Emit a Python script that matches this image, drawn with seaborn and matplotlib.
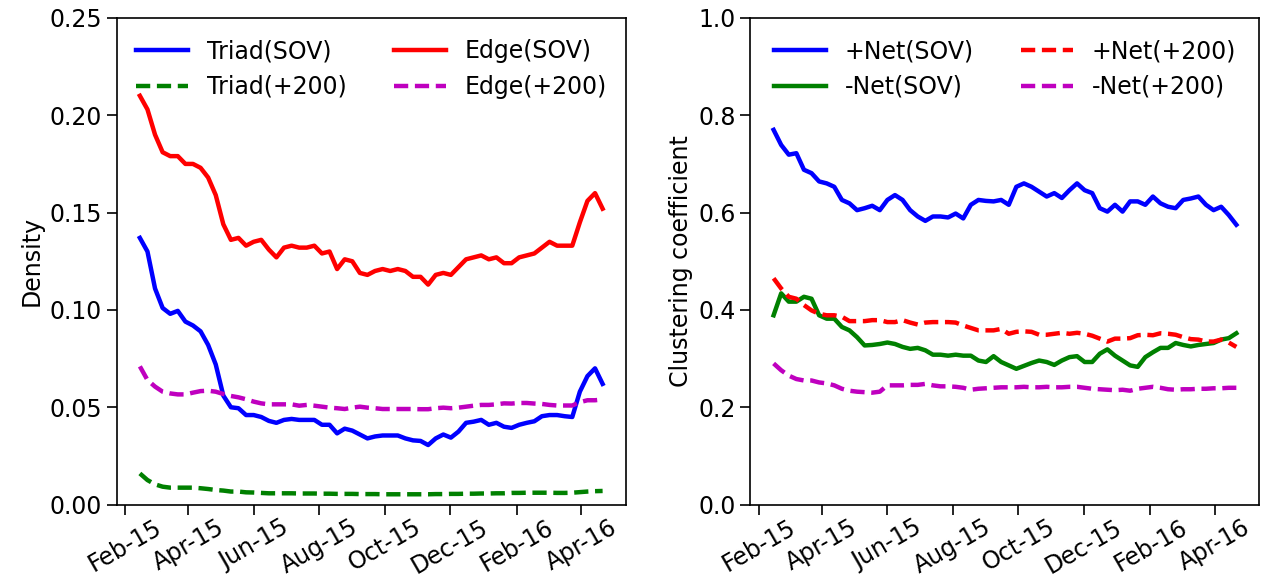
import pandas as pd
import seaborn as sns
import matplotlib
matplotlib.use("Agg")
import matplotlib.pyplot as plt
import matplotlib.dates as mdates
from matplotlib.ticker import FormatStrFormatter, MultipleLocator

plt.rcParams['font.family'] = ['DejaVu Sans']
plt.rcParams['font.size'] = 17

# weekly samples, 2015-02-15 .. 2016-04-21
dates = pd.date_range("2015-02-15", "2016-04-21", periods=62)

# ---- left panel: density ----
triad_sov = [0.137, 0.130, 0.111, 0.101, 0.098, 0.0995, 0.094, 0.092, 0.089, 0.082,
             0.072, 0.056, 0.050, 0.0495, 0.046, 0.046, 0.045, 0.043, 0.042, 0.0435,
             0.044, 0.0435, 0.0435, 0.0435, 0.041, 0.041, 0.0366, 0.039, 0.038, 0.036,
             0.034, 0.035, 0.0355, 0.0355, 0.0355, 0.034, 0.033, 0.0327, 0.0306, 0.034,
             0.036, 0.0344, 0.0375, 0.042, 0.0426, 0.0435, 0.041, 0.042, 0.040, 0.0394,
             0.041, 0.042, 0.0428, 0.0454, 0.046, 0.046, 0.0454, 0.045, 0.058, 0.066,
             0.070, 0.062]
triad_200 = [0.016, 0.0126, 0.0104, 0.0092, 0.0087, 0.0087, 0.0087, 0.0087, 0.0084, 0.008,
             0.0075, 0.0072, 0.0067, 0.0067, 0.0063, 0.0062, 0.006, 0.0058, 0.0058, 0.0058,
             0.0058, 0.0057, 0.0057, 0.0057, 0.0056, 0.0056, 0.0055, 0.0055, 0.0055, 0.0054,
             0.0054, 0.0054, 0.0053, 0.0053, 0.0053, 0.0053, 0.0053, 0.0053, 0.0053, 0.0054,
             0.0054, 0.0055, 0.0055, 0.0056, 0.0056, 0.0057, 0.0057, 0.0058, 0.0058, 0.006,
             0.006, 0.0061, 0.0061, 0.0061, 0.0061, 0.006, 0.006, 0.0061, 0.0064, 0.0067,
             0.0069, 0.007]
edge_sov = [0.210, 0.203, 0.190, 0.181, 0.179, 0.179, 0.175, 0.175, 0.173, 0.168,
            0.159, 0.144, 0.136, 0.137, 0.133, 0.135, 0.136, 0.131, 0.127, 0.132,
            0.133, 0.132, 0.132, 0.133, 0.129, 0.130, 0.121, 0.126, 0.125, 0.119,
            0.118, 0.120, 0.121, 0.120, 0.121, 0.120, 0.117, 0.117, 0.113, 0.118,
            0.119, 0.118, 0.122, 0.126, 0.127, 0.128, 0.126, 0.127, 0.124, 0.124,
            0.127, 0.128, 0.129, 0.132, 0.135, 0.133, 0.133, 0.133, 0.145, 0.156,
            0.160, 0.152]
edge_200 = [0.071, 0.064, 0.0606, 0.058, 0.0571, 0.0566, 0.0566, 0.0575, 0.0583, 0.0585,
            0.058, 0.0568, 0.0558, 0.0551, 0.0541, 0.0529, 0.052, 0.0515, 0.0515, 0.0515,
            0.0515, 0.0508, 0.0512, 0.0508, 0.0503, 0.0498, 0.0495, 0.0491, 0.0498, 0.0503,
            0.0498, 0.0495, 0.0491, 0.0491, 0.0491, 0.0491, 0.0491, 0.049, 0.049, 0.0495,
            0.0498, 0.0495, 0.0498, 0.0503, 0.0508, 0.0512, 0.0512, 0.0515, 0.052, 0.0519,
            0.0522, 0.0522, 0.0519, 0.0517, 0.0512, 0.0509, 0.0509, 0.0509, 0.0526, 0.0536,
            0.0536, 0.054]

# ---- right panel: clustering coefficient ----
pos_sov = [0.770, 0.739, 0.719, 0.722, 0.688, 0.681, 0.664, 0.660, 0.653, 0.626,
           0.619, 0.605, 0.609, 0.614, 0.605, 0.626, 0.636, 0.626, 0.605, 0.592,
           0.583, 0.592, 0.592, 0.590, 0.598, 0.588, 0.616, 0.626, 0.624, 0.623,
           0.626, 0.616, 0.653, 0.660, 0.653, 0.643, 0.633, 0.640, 0.630, 0.646,
           0.660, 0.646, 0.640, 0.609, 0.602, 0.616, 0.602, 0.623, 0.623, 0.616,
           0.633, 0.619, 0.612, 0.609, 0.626, 0.629, 0.633, 0.616, 0.605, 0.612,
           0.595, 0.575]
neg_sov = [0.389, 0.434, 0.417, 0.417, 0.427, 0.423, 0.389, 0.382, 0.382, 0.365,
           0.358, 0.344, 0.327, 0.328, 0.330, 0.333, 0.330, 0.324, 0.320, 0.322,
           0.317, 0.308, 0.308, 0.306, 0.308, 0.306, 0.306, 0.296, 0.293, 0.305,
           0.293, 0.286, 0.279, 0.285, 0.291, 0.296, 0.293, 0.287, 0.296, 0.303,
           0.305, 0.293, 0.293, 0.310, 0.319, 0.306, 0.296, 0.286, 0.283, 0.303,
           0.313, 0.322, 0.322, 0.332, 0.328, 0.325, 0.328, 0.330, 0.332, 0.339,
           0.342, 0.352]
pos_200 = [0.465, 0.444, 0.427, 0.423, 0.410, 0.399, 0.392, 0.389, 0.389, 0.386,
           0.377, 0.377, 0.377, 0.379, 0.379, 0.375, 0.375, 0.379, 0.374, 0.370,
           0.374, 0.375, 0.375, 0.375, 0.374, 0.368, 0.363, 0.358, 0.358, 0.358,
           0.361, 0.351, 0.355, 0.356, 0.355, 0.349, 0.349, 0.351, 0.353, 0.351,
           0.353, 0.351, 0.347, 0.341, 0.335, 0.341, 0.341, 0.342, 0.348, 0.349,
           0.348, 0.352, 0.351, 0.349, 0.344, 0.340, 0.339, 0.335, 0.335, 0.339,
           0.333, 0.324]
neg_200 = [0.290, 0.276, 0.265, 0.258, 0.255, 0.255, 0.251, 0.249, 0.245, 0.238,
           0.234, 0.232, 0.231, 0.230, 0.232, 0.245, 0.245, 0.245, 0.246, 0.246,
           0.248, 0.245, 0.243, 0.243, 0.242, 0.240, 0.236, 0.238, 0.239, 0.240,
           0.241, 0.241, 0.241, 0.242, 0.241, 0.241, 0.242, 0.241, 0.241, 0.242,
           0.242, 0.240, 0.238, 0.237, 0.236, 0.235, 0.236, 0.234, 0.238, 0.240,
           0.242, 0.240, 0.237, 0.236, 0.237, 0.237, 0.238, 0.238, 0.239, 0.239,
           0.240, 0.240]

fig, (ax1, ax2) = plt.subplots(1, 2, figsize=(12.62, 5.78), dpi=100)
fig.subplots_adjust(left=0.0925, right=0.998, bottom=0.127, top=0.969, wspace=0.245)

dash = (0, (3.2, 1.5))
left_series = [
    (triad_sov, "Triad(SOV)", "b", "-"),
    (triad_200, "Triad(+200)", "g", dash),
    (edge_sov, "Edge(SOV)", "r", "-"),
    (edge_200, "Edge(+200)", "m", dash),
]
right_series = [
    (pos_sov, "+Net(SOV)", "b", "-"),
    (neg_sov, "-Net(SOV)", "g", "-"),
    (pos_200, "+Net(+200)", "r", dash),
    (neg_200, "-Net(+200)", "m", dash),
]

for ax, series in [(ax1, left_series), (ax2, right_series)]:
    for vals, lbl, c, ls in series:
        sns.lineplot(x=dates, y=vals, ax=ax, color=c, linestyle=ls,
                     linewidth=3.2, label=lbl)
    ax.legend(ncol=2, loc="upper center", frameon=False, fontsize=17,
              handlelength=2.2)
    ax.xaxis.set_major_locator(mdates.MonthLocator(bymonth=[2, 4, 6, 8, 10, 12]))
    ax.xaxis.set_major_formatter(mdates.DateFormatter("%b-%y"))
    ax.tick_params(axis="both", direction="out", length=7, width=1.2, labelsize=17)
    ax.tick_params(axis="x", rotation=30, pad=0.5)
    ax.set_xlabel("")
    for s in ax.spines.values():
        s.set_linewidth(1.2)
        s.set_color("black")

ax1.set_ylim(0, 0.25)
ax1.yaxis.set_major_locator(MultipleLocator(0.05))
ax1.yaxis.set_major_formatter(FormatStrFormatter("%.2f"))
ax1.set_ylabel("Density", fontsize=17)

ax2.set_ylim(0, 1.0)
ax2.yaxis.set_major_locator(MultipleLocator(0.2))
ax2.yaxis.set_major_formatter(FormatStrFormatter("%.1f"))
ax2.set_ylabel("Clustering coefficient", fontsize=17)

plt.savefig("out.png", dpi=100)
